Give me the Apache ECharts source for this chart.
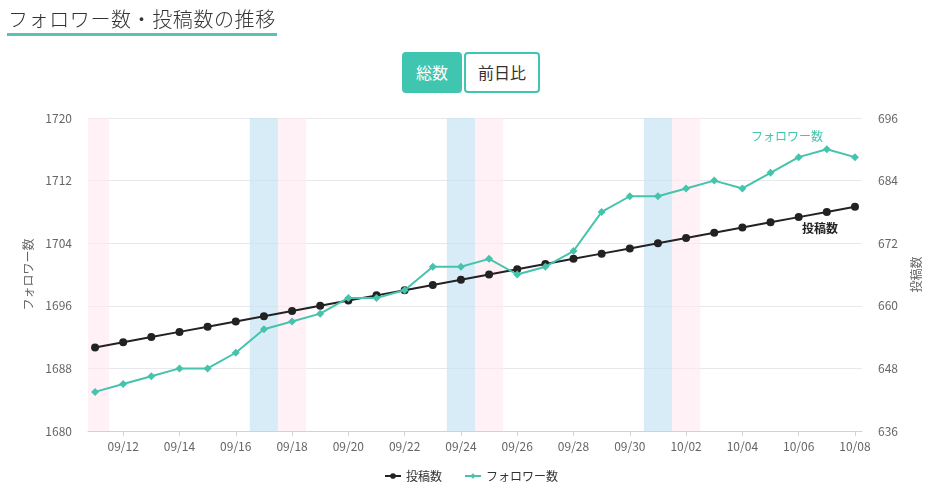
<!DOCTYPE html>
<html lang="ja">
<head>
<meta charset="utf-8">
<title>フォロワー数・投稿数の推移</title>
<script src="https://cdn.jsdelivr.net/npm/echarts@6/dist/echarts.min.js"></script>
<style>
    html, body { margin: 0; padding: 0; background: #fff; font-family: "Noto Sans CJK JP", "Noto Sans", sans-serif; }
    #wrap { position: relative; width: 942px; height: 498px; }
    #chart { position: absolute; left: 0; top: 0; width: 942px; height: 498px; }
    .title {
        position: absolute; left: 7px; top: 6px; margin: 0;
        font-size: 20px; font-weight: 300; color: #333; letter-spacing: 0.6px;
        border-bottom: 3px solid #5cc1b2; padding: 0 1px 1px 1px; line-height: 26px;
        z-index: 2;
    }
    .btns { position: absolute; left: 402px; top: 52px; z-index: 2; }
    .btn {
        display: inline-block; box-sizing: border-box; height: 41px; margin-right: 2px;
        font-size: 16px; line-height: 37px; text-align: center; border-radius: 4px;
        border: 2px solid #40c5b0; color: #333; background: #fff; vertical-align: top;
    }
    .btn.on { background: #40c5b0; color: #fff; width: 60px; }
    .btn.off { width: 76px; }
</style>
</head>
<body>
<div id="wrap">
    <div id="chart"></div>
    <h1 class="title">フォロワー数・投稿数の推移</h1>
    <div class="btns"><span class="btn on">総数</span><span class="btn off">前日比</span></div>
</div>
<script>
// 日付
var dates = ['09/11', '09/12', '09/13', '09/14', '09/15', '09/16', '09/17', '09/18', '09/19', '09/20',
    '09/21', '09/22', '09/23', '09/24', '09/25', '09/26', '09/27', '09/28', '09/29', '09/30',
    '10/01', '10/02', '10/03', '10/04', '10/05', '10/06', '10/07', '10/08'];
var tickDates = ['09/12', '09/14', '09/16', '09/18', '09/20', '09/22', '09/24', '09/26', '09/28', '09/30',
    '10/02', '10/04', '10/06', '10/08'];
// 土曜・日曜
var saturdays = ['09/17', '09/24', '10/01'];
var sundays = ['09/11', '09/18', '09/25', '10/02'];

// 投稿数 (右軸)
var posts = [652, 653, 654, 655, 656, 657, 658, 659, 660, 661,
    662, 663, 664, 665, 666, 667, 668, 669, 670, 671,
    672, 673, 674, 675, 676, 677, 678, 679];
// フォロワー数 (左軸)
var followers = [1685, 1686, 1687, 1688, 1688, 1690, 1693, 1694, 1695, 1697,
    1697, 1698, 1701, 1701, 1702, 1700, 1701, 1703, 1708, 1710,
    1710, 1711, 1712, 1711, 1713, 1715, 1716, 1715];

var leftTicks = [1680, 1688, 1696, 1704, 1712, 1720];
var rightTicks = [636, 648, 660, 672, 684, 696];

var teal = '#45c3ac';
var black = '#222222';
var font = '"Noto Sans CJK JP", "Noto Sans", sans-serif';

// 最後の点にだけ系列名ラベルを付ける
function pairs(values, name, labelStyle) {
    return values.map(function (v, i) {
        if (i === values.length - 1) {
            return {
                value: [i, v],
                label: Object.assign({ show: true, formatter: name, position: 'inside', fontSize: 12, fontFamily: font }, labelStyle)
            };
        }
        return [i, v];
    });
}

function bands(list, color) {
    return list.map(function (d) {
        var i = dates.indexOf(d);
        return [{ xAxis: i - 0.5, itemStyle: { color: color } }, { xAxis: i + 0.5 }];
    });
}

var myChart = echarts.init(document.getElementById('chart'), null, { renderer: 'canvas' });

var option = {
    textStyle: { fontFamily: font },
    animation: false,
    grid: { left: 88, right: 80, top: 118, bottom: 67 },
    legend: {
        bottom: 11,
        left: 'center',
        itemGap: 22,
        itemWidth: 16,
        itemHeight: 7,
        textStyle: { color: '#333', fontSize: 12, fontFamily: font },
        data: ['投稿数', 'フォロワー数']
    },
    xAxis: {
        type: 'value',
        min: -0.25,
        max: dates.length - 0.75,
        axisLine: { show: true, lineStyle: { color: '#ccd3e0' } },
        axisTick: {
            show: true, length: 5, lineStyle: { color: '#ccd3e0' },
            customValues: tickDates.map(function (d) { return dates.indexOf(d); })
        },
        axisLabel: {
            color: '#666', fontSize: 12, margin: 9,
            customValues: tickDates.map(function (d) { return dates.indexOf(d); }),
            formatter: function (v) { return dates[v]; }
        },
        splitLine: { show: false }
    },
    yAxis: [
        {
            type: 'value',
            name: 'フォロワー数',
            nameLocation: 'middle',
            nameGap: 51,
            nameTextStyle: { color: '#666', fontSize: 12 },
            min: leftTicks[0],
            max: leftTicks[leftTicks.length - 1],
            interval: 8,
            axisLine: { show: false },
            axisTick: { show: false },
            axisLabel: { color: '#666', fontSize: 12, margin: 16, formatter: function (v) { return String(v); } },
            splitLine: { lineStyle: { color: '#e8e8ec' } }
        },
        {
            type: 'value',
            name: '投稿数',
            nameLocation: 'middle',
            nameGap: 48,
            nameTextStyle: { color: '#666', fontSize: 12 },
            min: rightTicks[0],
            max: rightTicks[rightTicks.length - 1],
            interval: 12,
            axisLine: { show: false },
            axisTick: { show: false },
            axisLabel: { color: '#666', fontSize: 12, margin: 16, formatter: function (v) { return String(v); } },
            splitLine: { show: false }
        }
    ],
    series: [
        {
            name: '投稿数',
            type: 'line',
            yAxisIndex: 1,
            data: pairs(posts, '投稿数', { color: '#222', fontWeight: 'bold', offset: [-35, 22] }),
            symbol: 'circle',
            symbolSize: 8,
            lineStyle: { color: black, width: 2 },
            itemStyle: { color: black },
            z: 3
        },
        {
            name: 'フォロワー数',
            type: 'line',
            yAxisIndex: 0,
            data: pairs(followers, 'フォロワー数', { color: teal, offset: [-68, -21] }),
            symbol: 'diamond',
            symbolSize: 8,
            lineStyle: { color: teal, width: 2 },
            itemStyle: { color: teal },
            markArea: {
                silent: true,
                data: bands(saturdays, 'rgba(200, 228, 243, 0.7)').concat(bands(sundays, 'rgba(255, 232, 238, 0.6)'))
            },
            z: 4
        }
    ]
};

if (option && typeof option === 'object') {
    myChart.setOption(option);
}

window.addEventListener('resize', myChart.resize);
</script>
</body>
</html>
